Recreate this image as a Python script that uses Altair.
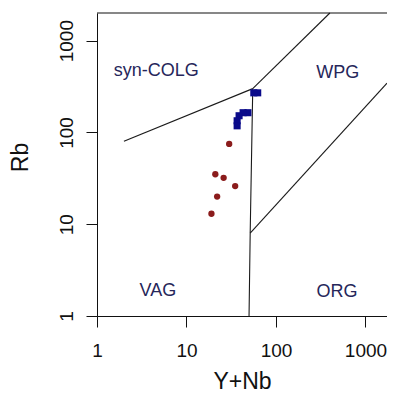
import altair as alt
import pandas as pd

# sample data
ynb_red = [30, 21, 26, 35, 22, 19]
rb_red = [75, 35, 32, 26, 20, 13]
ynb_blue = [62.5, 56.5, 48.6, 42.9, 38.7, 36.8, 36.8]
rb_blue = [270, 270, 164, 164, 152, 134, 118]

# discrimination boundaries (Pearce et al. 1984), cut at the plot edge
bnd_seg = ["a", "a", "b", "b", "c", "c", "c", "d", "d"]
bnd_x = [2, 55, 55, 400, 55, 51.5, 50, 51.5, 1740]
bnd_y = [80, 300, 300, 2000, 300, 8, 1, 8, 344]

# field labels
lab_text = ["syn-COLG", "WPG", "VAG", "ORG"]
lab_x = [4.6, 489, 4.78, 482]
lab_y = [464, 441, 1.85, 1.83]

x_ticks = [1, 10, 100, 1000]
y_ticks = [1, 10, 100, 1000]

FONT = "Liberation Sans"
W, H = 290, 303

xs = alt.Scale(type="log", domain=[1, 1740], nice=False)
ys = alt.Scale(type="log", domain=[1, 2000], nice=False)

xaxis = alt.Axis(values=x_ticks, format="d", title="Y+Nb", grid=False,
                 tickSize=11, tickColor="#111", domainColor="#111",
                 labelFontSize=19, labelFont=FONT, labelColor="#111", labelPadding=14,
                 labelFlush=False, labelOverlap=False,
                 titleFontSize=23, titleFont=FONT, titleFontWeight="normal", titleColor="#111",
                 titleX=W / 2, titleY=72, titleAlign="center", titleBaseline="alphabetic")
yaxis = alt.Axis(values=y_ticks, format="d", title="Rb", grid=False,
                 tickSize=11, tickColor="#111", domainColor="#111",
                 labelFontSize=19, labelFont=FONT, labelColor="#111", labelPadding=14,
                 labelAngle=270, labelAlign="center", labelBaseline="alphabetic",
                 labelFlush=False, labelOverlap=False,
                 titleFontSize=23, titleFont=FONT, titleFontWeight="normal", titleColor="#111",
                 titleAngle=270, titleX=-70, titleY=144, titleAlign="center",
                 titleBaseline="alphabetic")

bnd = pd.DataFrame({"seg": bnd_seg, "x": bnd_x, "y": bnd_y, "o": list(range(len(bnd_x)))})
red = pd.DataFrame({"x": ynb_red, "y": rb_red})
blue = pd.DataFrame({"x": ynb_blue, "y": rb_blue})
labs = pd.DataFrame({"t": lab_text, "x": lab_x, "y": lab_y})

lines = alt.Chart(bnd).mark_line(color="#1a1a1a", strokeWidth=1.1).encode(
    x=alt.X("x:Q", scale=xs, axis=xaxis),
    y=alt.Y("y:Q", scale=ys, axis=yaxis),
    detail="seg:N",
    order="o:Q",
)

red_pts = alt.Chart(red).mark_circle(color="#8b1c1c", opacity=1, size=40).encode(
    x=alt.X("x:Q", scale=xs), y=alt.Y("y:Q", scale=ys))

blue_pts = alt.Chart(blue).mark_square(color="#0a0a8a", opacity=1, size=50).encode(
    x=alt.X("x:Q", scale=xs), y=alt.Y("y:Q", scale=ys))

texts = alt.Chart(labs).mark_text(font=FONT, fontSize=18, color="#26265a",
                                  align="center", baseline="middle").encode(
    x=alt.X("x:Q", scale=xs), y=alt.Y("y:Q", scale=ys), text="t:N")

top = alt.Chart(pd.DataFrame({"a": [0]})).mark_rule(color="#111", strokeWidth=1.2).encode(
    y=alt.value(0))

chart = alt.layer(lines, red_pts, blue_pts, texts, top).properties(
    width=W, height=H,
    autosize=alt.AutoSizeParams(type="none"),
    padding={"left": 89, "top": 5, "right": 0, "bottom": 77},
    background="white",
    view=alt.ViewBackground(stroke="transparent", strokeWidth=0),
).configure_view(stroke="transparent", strokeWidth=0)

chart.save("out.html", embed_options={"renderer": "svg", "actions": False})
